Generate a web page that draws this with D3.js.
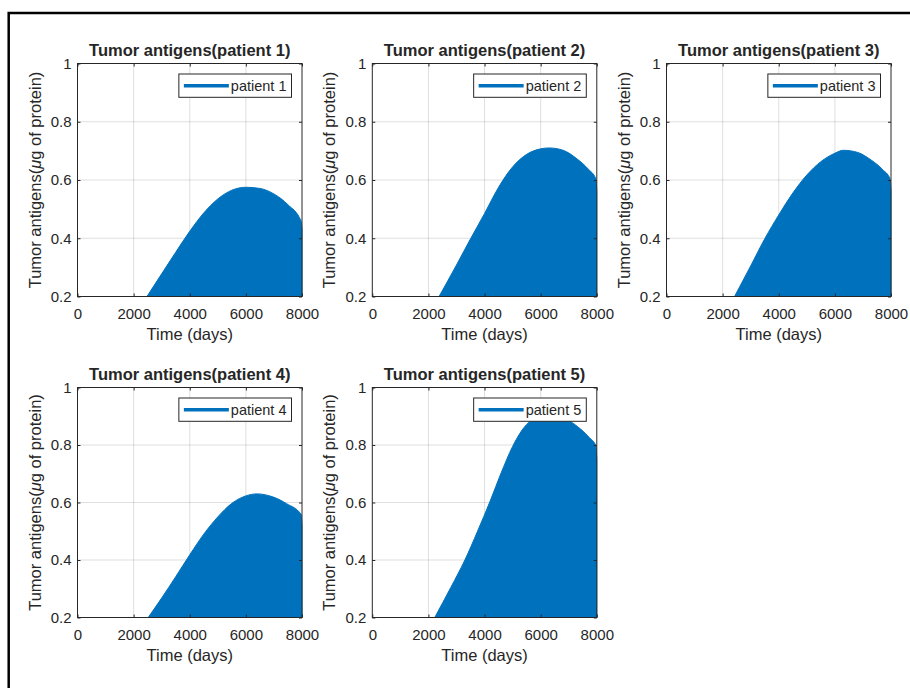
<!DOCTYPE html>
<html><head><meta charset="utf-8">
<script src="https://cdn.jsdelivr.net/npm/d3@7"></script>
<style>
body{margin:0;background:#fff}
svg{display:block}
text{font-family:"Liberation Sans",Arial,Helvetica,sans-serif;fill:#262626}
</style>
</head><body>
<svg id="chart" width="910" height="688"></svg>
<script>
// ---------------- data ----------------
const patients = ["patient 1", "patient 2", "patient 3", "patient 4", "patient 5"];
const titles = ["Tumor antigens(patient 1)", "Tumor antigens(patient 2)", "Tumor antigens(patient 3)",
                "Tumor antigens(patient 4)", "Tumor antigens(patient 5)"];
const xLabel = "Time (days)";
const yLabelPre = "Tumor antigens(", yLabelMu = "\u03bc", yLabelPost = "g of protein)";
const xTickValues = [0, 2000, 4000, 6000, 8000];
const xTickLabels = ["0", "2000", "4000", "6000", "8000"];
const yTickValues = [0.2, 0.4, 0.6, 0.8, 1];
const yTickLabels = ["0.2", "0.4", "0.6", "0.8", "1"];

// upper envelope of the (dense, oscillating) antigen trace
const days1 = [2475, 3000, 3500, 4000, 4500, 5000, 5500, 6000, 6500, 7000, 7500, 7970, 8000];
const antigen1 = [0.2, 0.278, 0.352, 0.424, 0.487, 0.535, 0.565, 0.575, 0.571, 0.552, 0.515, 0.458, 0.43];
const days2 = [2380, 3000, 3500, 4000, 4500, 5000, 5500, 6000, 6300, 6800, 7300, 7700, 7970, 8000];
const antigen2 = [0.2, 0.308, 0.398, 0.485, 0.575, 0.645, 0.688, 0.707, 0.71, 0.702, 0.672, 0.637, 0.603, 0.56];
const days3 = [2425, 3000, 3500, 4000, 4500, 5000, 5500, 6000, 6300, 6800, 7300, 7700, 7970, 8000];
const antigen3 = [0.2, 0.305, 0.398, 0.48, 0.555, 0.617, 0.663, 0.692, 0.702, 0.695, 0.668, 0.636, 0.603, 0.56];
const days4 = [2520, 3000, 3500, 4000, 4500, 5000, 5500, 6000, 6400, 7000, 7450, 7970, 8000];
const antigen4 = [0.2, 0.268, 0.342, 0.418, 0.49, 0.55, 0.597, 0.623, 0.63, 0.618, 0.596, 0.558, 0.52];
const days5 = [2225, 2800, 3300, 3750, 4200, 4600, 5000, 5400, 5800, 6300, 6800, 7300, 7730, 7970, 8000];
const antigen5 = [0.2, 0.305, 0.4, 0.5, 0.605, 0.705, 0.795, 0.86, 0.893, 0.903, 0.895, 0.865, 0.826, 0.797, 0.75];

const seriesDays = [days1, days2, days3, days4, days5];
const seriesValues = [antigen1, antigen2, antigen3, antigen4, antigen5];

// ---------------- layout ----------------
const svg = d3.select("#chart");
const blue = "#0072BD";
const colLeft = [77.5, 372.3, 666.5];
const plotW = 224.5;
const rows = [{top: 63.5, bottom: 296.5}, {top: 387.5, bottom: 617.5}];

// outer frame (only left/top edges visible)
svg.append("path").attr("d", "M8.7,688V13H910").attr("fill", "none")
  .attr("stroke", "#000").attr("stroke-width", 2.5);

patients.forEach((name, i) => {
  const col = i % 3, row = Math.floor(i / 3);
  const L = colLeft[col], R = L + plotW, T = rows[row].top, B = rows[row].bottom;
  const x = d3.scaleLinear().domain([0, 8000]).range([L, R]);
  const y = d3.scaleLinear().domain([0.2, 1]).range([B, T]);
  const g = svg.append("g");

  // grid
  g.selectAll(".gx").data(xTickValues.slice(1, -1)).join("line")
    .attr("x1", d => x(d)).attr("x2", d => x(d)).attr("y1", T).attr("y2", B)
    .attr("stroke", "#262626").attr("stroke-opacity", 0.15).attr("stroke-width", 1);
  g.selectAll(".gy").data(yTickValues.slice(1, -1)).join("line")
    .attr("y1", d => y(d)).attr("y2", d => y(d)).attr("x1", L).attr("x2", R)
    .attr("stroke", "#262626").attr("stroke-opacity", 0.15).attr("stroke-width", 1);

  // data
  const pts = seriesDays[i].map((d, k) => [d, seriesValues[i][k]]);
  const area = d3.area().x(d => x(d[0])).y0(y(0.2)).y1(d => y(d[1])).curve(d3.curveMonotoneX);
  g.append("path").datum(pts).attr("d", area).attr("fill", blue)
    .attr("stroke", blue).attr("stroke-width", 1);

  // axes
  const xAxis = d3.axisBottom(x).tickValues(xTickValues).tickFormat((d, k) => xTickLabels[k])
    .tickSizeInner(-3).tickSizeOuter(0).tickPadding(11.5);
  const yAxis = d3.axisLeft(y).tickValues(yTickValues).tickFormat((d, k) => yTickLabels[k])
    .tickSizeInner(-3).tickSizeOuter(0).tickPadding(6);
  const xTop = d3.axisTop(x).tickValues(xTickValues).tickFormat("").tickSizeInner(-3).tickSizeOuter(0);
  const yRight = d3.axisRight(y).tickValues(yTickValues).tickFormat("").tickSizeInner(-3).tickSizeOuter(0);
  const styleAxis = sel => {
    sel.select(".domain").remove();
    sel.selectAll(".tick line").attr("stroke", "#262626");
    sel.selectAll(".tick text").attr("fill", "#262626").style("font-size", "15px")
      .style("font-family", '"Liberation Sans",Arial,Helvetica,sans-serif');
  };
  g.append("g").attr("transform", `translate(0,${B})`).call(xAxis).call(styleAxis);
  g.append("g").attr("transform", `translate(${L},0)`).call(yAxis).call(styleAxis);
  g.append("g").attr("transform", `translate(0,${T})`).call(xTop).call(styleAxis);
  g.append("g").attr("transform", `translate(${R},0)`).call(yRight).call(styleAxis);

  g.append("rect").attr("x", L).attr("y", T).attr("width", R - L).attr("height", B - T)
    .attr("fill", "none").attr("stroke", "#262626").attr("stroke-width", 1);

  // title
  g.append("text").attr("x", (L + R) / 2).attr("y", T - 8).attr("text-anchor", "middle")
    .style("font-size", "16.5px").style("font-weight", "bold").attr("fill", "#000").text(titles[i]);
  // x label
  g.append("text").attr("x", (L + R) / 2).attr("y", B + 43.5).attr("text-anchor", "middle")
    .style("font-size", "16.5px").text(xLabel);
  // y label
  const yl = g.append("text").attr("transform", `translate(${L - 37},${(T + B) / 2}) rotate(-90)`)
    .attr("text-anchor", "middle").style("font-size", "16.5px");
  yl.append("tspan").text(yLabelPre);
  yl.append("tspan").style("font-style", "italic").text(yLabelMu);
  yl.append("tspan").text(yLabelPost);

  // legend
  const lg = g.append("g");
  const box = lg.append("rect").attr("fill", "#fff").attr("stroke", "#262626").attr("stroke-width", 1);
  const bx = R - 10.5, by = T + 10.5, bh = 23.3;
  const lt = lg.append("text").style("font-size", "14.5px").text(name);
  const tw = lt.node().getComputedTextLength();
  const bw = 5 + 45 + 2 + tw + 5;
  box.attr("x", bx - bw).attr("y", by).attr("width", bw).attr("height", bh);
  lg.append("line").attr("x1", bx - bw + 5).attr("x2", bx - bw + 50)
    .attr("y1", by + bh / 2).attr("y2", by + bh / 2).attr("stroke", blue).attr("stroke-width", 3.5);
  lt.attr("x", bx - bw + 52).attr("y", by + bh / 2 + 5);
});
</script>
</body></html>
